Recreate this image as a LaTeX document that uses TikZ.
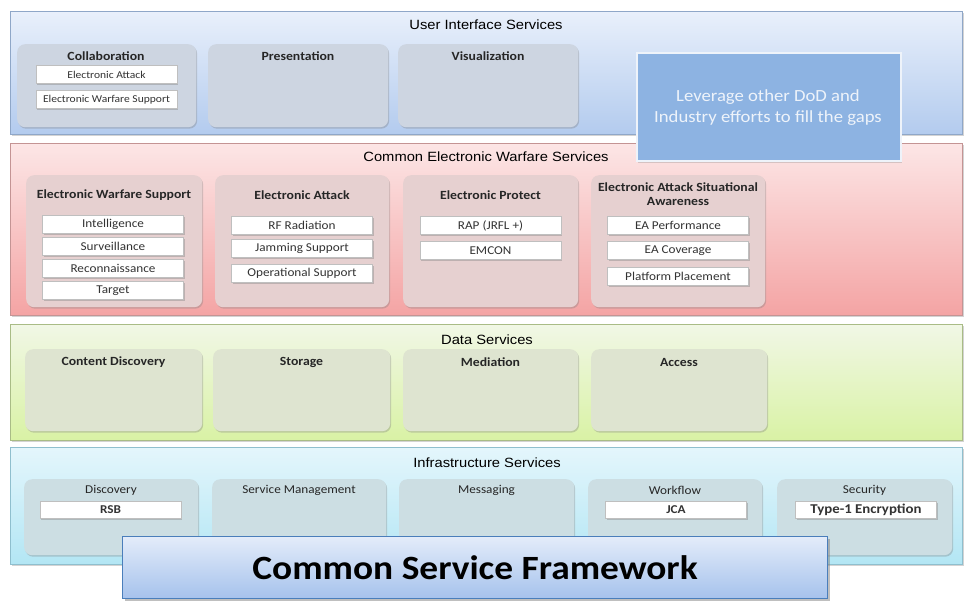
\documentclass[tikz,border=0pt]{standalone}
\usepackage{fontspec}
\setmainfont{Carlito}[FakeStretch=1.1]
\newfontfamily\arialfont{Liberation Sans}[FakeStretch=1.1]
\usetikzlibrary{shadows}

\definecolor{uiTop}{HTML}{E9F0FB}
\definecolor{uiBot}{HTML}{B3CBEE}
\definecolor{uiBox}{HTML}{CDD5E1}
\definecolor{uiLine}{HTML}{8FA7C8}
\definecolor{ewTop}{HTML}{FCE6E6}
\definecolor{ewBot}{HTML}{F4A4A4}
\definecolor{ewBox}{HTML}{E6D0D0}
\definecolor{ewLine}{HTML}{C49494}
\definecolor{dsTop}{HTML}{F1F7E6}
\definecolor{dsBot}{HTML}{D9F2A5}
\definecolor{dsBox}{HTML}{DEE4D0}
\definecolor{dsLine}{HTML}{A9BC86}
\definecolor{isTop}{HTML}{E4F6FC}
\definecolor{isBot}{HTML}{B3E6F4}
\definecolor{isBox}{HTML}{CCDEE3}
\definecolor{isLine}{HTML}{8FBFCE}
\definecolor{levFill}{HTML}{8DB3E2}
\definecolor{levText}{HTML}{EEF3FA}
\definecolor{csfTop}{HTML}{E3ECFA}
\definecolor{csfBot}{HTML}{A6C2EC}
\definecolor{csfLine}{HTML}{4A7EBB}

\begin{document}
\begin{tikzpicture}[x=1pt, y=-1pt,
  band/.style={line width=0.8pt, drop shadow={opacity=0.35, shadow xshift=1.5pt, shadow yshift=-1.5pt}},
  bandtitle/.style={font=\arialfont\fontsize{13.4}{15}\selectfont, inner sep=0pt},
  svc/.style={rounded corners=8pt, fill=#1, anchor=north west, inner sep=0pt,
    drop shadow={opacity=0.35, shadow xshift=1pt, shadow yshift=-1.5pt}},
  svctitle/.style={font=\bfseries\fontsize{12.5}{14}\selectfont, text=black!85, inner sep=0pt, align=center},
  infratitle/.style={font=\fontsize{12}{14}\selectfont, text=black!85, inner sep=0pt},
  item/.style={draw=gray!50, fill=white, minimum width=141pt, minimum height=18pt, inner sep=0pt,
    font=\fontsize{12}{13}\selectfont, text=black!80,
    drop shadow={opacity=0.4, shadow xshift=1pt, shadow yshift=-1.5pt}}]

\useasboundingbox (0,0) rectangle (969,606);

% User Interface Services
\path[band, draw=uiLine, top color=uiTop, bottom color=uiBot] (10,11) rectangle (962,134);
\node[bandtitle] (uiT) at (486,25) {User Interface Services};
\node[svc=uiBox, minimum width=179pt, minimum height=83pt] (collab) at (17,44) {};
\node[svctitle] (collabT) at (106,56) {Collaboration};
\node[item, font=\fontsize{10.5}{11}\selectfont] (collabEA) at (106.5,74.5) {Electronic Attack};
\node[item, font=\fontsize{10.5}{11}\selectfont] (collabEWS) at (106.5,99.5) {Electronic Warfare Support};
\node[svc=uiBox, minimum width=180pt, minimum height=83pt] (pres) at (208,44) {};
\node[svctitle] (presT) at (298,56) {Presentation};
\node[svc=uiBox, minimum width=180pt, minimum height=83pt] (vis) at (398,44) {};
\node[svctitle] (visT) at (488,56) {Visualization};

% Common Electronic Warfare Services
\path[band, draw=ewLine, top color=ewTop, bottom color=ewBot] (10,143) rectangle (962,315);
\node[bandtitle] (ewT) at (486,157) {Common Electronic Warfare Services};
\node[svc=ewBox, minimum width=176pt, minimum height=132pt] (ews) at (26,175) {};
\node[svctitle] (ewsT) at (114,195) {Electronic Warfare Support};
\node[item] (intel) at (113,224) {Intelligence};
\node[item] (surv) at (113,246) {Surveillance};
\node[item] (recon) at (113,268) {Reconnaissance};
\node[item] (target) at (113,290.5) {Target};
\node[svc=ewBox, minimum width=174pt, minimum height=132pt] (ea) at (215,175) {};
\node[svctitle] (eaT) at (302,195) {Electronic Attack};
\node[item] (rf) at (302,225) {RF Radiation};
\node[item] (jam) at (302,248.5) {Jamming Support};
\node[item] (ops) at (302,273) {Operational Support};
\node[svc=ewBox, minimum width=175pt, minimum height=132pt] (ep) at (403,175) {};
\node[svctitle] (epT) at (490.5,195) {Electronic Protect};
\node[item] (rap) at (490.5,225.5) {RAP (JRFL +)};
\node[item] (emcon) at (490.5,250.5) {EMCON};
\node[svc=ewBox, minimum width=174pt, minimum height=132pt] (easa) at (591,175) {};
\node[svctitle, font=\bfseries\fontsize{12.5}{14}\selectfont] (easaT) at (678,194.5) {Electronic Attack Situational\\Awareness};
\node[item] (eaperf) at (678,225.5) {EA Performance};
\node[item] (eacov) at (678,250.5) {EA Coverage};
\node[item] (plat) at (678,276) {Platform Placement};

% Leverage note (sits over both upper bands)
\node[draw=levText, line width=2pt, fill=levFill, anchor=north west, minimum width=264pt, minimum height=108pt,
  drop shadow={opacity=0.3, shadow xshift=1pt, shadow yshift=-1.5pt}] (lev) at (636,52) {};
\node[text=levText, font=\fontsize{17}{21}\selectfont, align=center] (levT) at (768,107.5) {Leverage other DoD and\\Industry efforts to fill the gaps};

% Data Services
\path[band, draw=dsLine, top color=dsTop, bottom color=dsBot] (10,324) rectangle (962,440);
\node[bandtitle] (dsT) at (487,340) {Data Services};
\node[svc=dsBox, minimum width=177pt, minimum height=82pt] (cdisc) at (25,349) {};
\node[svctitle] (cdiscT) at (113.5,362) {Content Discovery};
\node[svc=dsBox, minimum width=177pt, minimum height=82pt] (stor) at (213,349) {};
\node[svctitle] (storT) at (301.5,362) {Storage};
\node[svc=dsBox, minimum width=175pt, minimum height=82pt] (med) at (403,349) {};
\node[svctitle] (medT) at (490.5,362) {Mediation};
\node[svc=dsBox, minimum width=176pt, minimum height=82pt] (acc) at (591,349) {};
\node[svctitle] (accT) at (679,362) {Access};

% Infrastructure Services
\path[band, draw=isLine, top color=isTop, bottom color=isBot] (10,447) rectangle (962,564);
\node[bandtitle] (isT) at (487,463) {Infrastructure Services};
\node[svc=isBox, minimum width=174pt, minimum height=76pt] (disc) at (24,479) {};
\node[infratitle] (discT) at (111,490) {Discovery};
\node[item, minimum height=17pt, font=\bfseries\fontsize{12}{13}\selectfont] (rsb) at (110.5,509.5) {RSB};
\node[svc=isBox, minimum width=174pt, minimum height=76pt] (smgmt) at (212,479) {};
\node[infratitle] (smgmtT) at (299,490) {Service Management};
\node[svc=isBox, minimum width=175pt, minimum height=76pt] (msg) at (399,479) {};
\node[infratitle] (msgT) at (486.5,490) {Messaging};
\node[svc=isBox, minimum width=174pt, minimum height=76pt] (wflow) at (588,479) {};
\node[infratitle] (wflowT) at (675,490) {Workflow};
\node[item, minimum height=17pt, font=\bfseries\fontsize{12}{13}\selectfont] (jca) at (676,509.5) {JCA};
\node[svc=isBox, minimum width=175pt, minimum height=76pt] (secu) at (777,479) {};
\node[infratitle] (secuT) at (864.5,490) {Security};
\node[item, minimum height=17pt, font=\bfseries\fontsize{13.5}{14}\selectfont] (type1) at (866,509.5) {Type-1 Encryption};

% Common Service Framework banner
\node[draw=csfLine, line width=1.2pt, top color=csfTop, bottom color=csfBot, anchor=north west,
  minimum width=705pt, minimum height=62pt, inner sep=0pt,
  drop shadow={opacity=0.5, shadow xshift=2pt, shadow yshift=-2pt}] (csf) at (122,536) {};
\node[font=\bfseries\fontsize{34}{36}\selectfont] (csfT) at (csf.center) {Common Service Framework};
\end{tikzpicture}
\end{document}
